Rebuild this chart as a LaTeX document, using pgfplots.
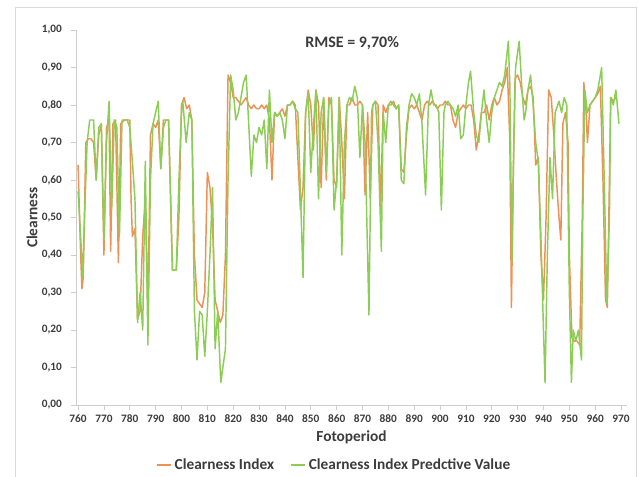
\documentclass[border=0pt]{standalone}
\usepackage{fontspec}
\setmainfont{Carlito}
\usepackage{pgfplots}
\pgfplotsset{compat=1.18}

\definecolor{ciorange}{RGB}{238,145,85}
\definecolor{cigreen}{RGB}{140,205,85}
\definecolor{axgray}{RGB}{205,205,205}
\definecolor{framegray}{RGB}{217,217,217}
\definecolor{txtgray}{RGB}{60,60,60}

\begin{document}
\begin{tikzpicture}
\useasboundingbox (0pt,0pt) rectangle (479.25pt,357.75pt);
% chart frame
\draw[framegray, line width=0.75pt] (11.25pt,-4pt) -- (11.25pt,351.75pt) -- (477pt,351.75pt) -- (477pt,-4pt);
\begin{axis}[
  at={(57pt,54pt)}, anchor=south west,
  scale only axis, width=413.25pt, height=281.25pt,
  xmin=759.2, xmax=972.3, ymin=0, ymax=1,
  axis x line*=bottom, axis y line*=left,
  axis line style={axgray, line width=0.6pt},
  xtick={760,770,...,970},
  ytick={0,0.1,...,1.01},
  tick align=outside, major tick length=4pt,
  tick style={axgray, line width=0.6pt},
  /pgf/number format/assume math mode=true,
  ticklabel style={font=\bfseries\fontsize{8.5}{10}\selectfont, text=txtgray},
  yticklabel style={/pgf/number format/.cd, fixed, fixed zerofill, precision=2, use comma, /tikz/.cd, xshift=-3pt},
  xticklabel style={/pgf/number format/.cd, set thousands separator={}},
  xlabel={Fotoperiod}, ylabel={Clearness},
  label style={font=\bfseries\fontsize{11.5}{13}\selectfont, text=txtgray},
  xlabel style={at={(axis description cs:0.5,0)}, anchor=center, yshift=-24.5pt},
  ylabel style={at={(axis description cs:0,0.5)}, anchor=center, yshift=33pt},
  legend columns=2,
  legend style={at={(0.469,-0.16)}, anchor=center, draw=none, fill=none,
    font=\bfseries\fontsize{11.5}{13}\selectfont, text=txtgray,
    /tikz/every even column/.append style={column sep=10pt}},
  legend image code/.code={\draw[#1] plot coordinates {(0pt,0pt) (11pt,0pt)};},
  clip=false,
]
% measured clearness index
\addplot[ciorange, line width=1.1pt, line join=round] coordinates {
(760,0.64) (761,0.40) (761.5,0.31) (762,0.34) (763,0.70) (764,0.71) (765,0.71) (766,0.70)
(767,0.60) (768,0.72) (769,0.75) (770,0.40) (771,0.74) (772,0.76) (772.6,0.41) (773.5,0.75)
(774.5,0.76) (775.6,0.38) (776.5,0.75) (778,0.76) (780,0.76) (780.5,0.55) (781,0.45) (782,0.47)
(783,0.23) (784,0.25) (785,0.45) (786,0.55) (787,0.25) (788,0.72) (789,0.75) (790,0.74)
(791,0.76) (792,0.63) (793,0.76) (795,0.76) (796.5,0.36) (798,0.36) (799,0.50) (800,0.80)
(801,0.82) (802,0.79) (803,0.80) (804,0.76) (805,0.40) (806,0.28) (807,0.27) (808,0.26)
(809,0.30) (810,0.62) (811,0.58) (812,0.48) (813,0.28) (814,0.25) (815,0.22) (816,0.24)
(817,0.40) (818,0.88) (819,0.86) (820,0.82) (821,0.82) (822,0.81) (823,0.80) (824,0.81)
(825,0.82) (826,0.80) (827,0.79) (828,0.80) (829,0.79) (830,0.79) (831,0.80) (832,0.79)
(833,0.80) (834,0.76) (835,0.60) (836,0.78) (837,0.77) (838,0.78) (839,0.79) (840,0.77)
(841,0.80) (842,0.80) (843,0.81) (844,0.80) (845,0.66) (846,0.52) (847,0.58) (848,0.78)
(849,0.84) (850,0.80) (851,0.68) (852,0.84) (853,0.80) (854,0.58) (855,0.82) (856,0.60)
(857,0.82) (858,0.80) (859,0.60) (860,0.58) (861,0.82) (862,0.70) (863,0.55) (864,0.80)
(865,0.80) (866,0.82) (867,0.80) (868,0.80) (869,0.81) (870,0.80) (871,0.56) (872,0.78)
(873,0.55) (874,0.80) (875,0.81) (876,0.80) (877,0.52) (878,0.80) (879,0.78) (880,0.80)
(881,0.80) (882,0.81) (883,0.79) (884,0.80) (885,0.63) (886,0.62) (887,0.72) (888,0.79)
(889,0.80) (890,0.79) (891,0.80) (892,0.78) (893,0.76) (894,0.80) (895,0.81) (896,0.80)
(897,0.81) (898,0.80) (899,0.79) (900,0.80) (901,0.80) (902,0.81) (903,0.80) (904,0.80)
(905,0.76) (906,0.74) (907,0.78) (908,0.79) (909,0.80) (910,0.79) (911,0.80) (912,0.80)
(913,0.76) (914,0.68) (915,0.72) (916,0.78) (917,0.78) (918,0.80) (919,0.76) (920,0.80)
(921,0.82) (922,0.80) (923,0.81) (924,0.84) (925,0.86) (926,0.90) (927,0.70) (927.6,0.26)
(928.3,0.60) (929,0.87) (930,0.88) (931,0.86) (932,0.82) (933,0.80) (934,0.84) (935,0.85)
(936,0.82) (937,0.64) (938,0.66) (939,0.40) (940,0.28) (941,0.50) (942,0.84) (943,0.82)
(944,0.72) (945,0.60) (946,0.50) (946.7,0.44) (947.5,0.75) (948.5,0.78) (949.5,0.70) (950,0.40)
(951,0.18) (952,0.17) (953,0.17) (954,0.16) (955,0.50) (955.6,0.86) (956.5,0.78) (957,0.70)
(958,0.80) (959,0.81) (960,0.82) (961,0.83) (962,0.85) (963,0.60) (964,0.28) (964.7,0.26)
(965.5,0.60) (966,0.82) (967,0.81) (968,0.82)
};
\addlegendentry{Clearness Index}
% predicted clearness index
\addplot[cigreen, line width=1.1pt, line join=round] coordinates {
(760,0.57) (761,0.45) (761.8,0.34) (762.5,0.50) (763.5,0.70) (764.5,0.76) (766,0.76) (767,0.60)
(768,0.74) (769,0.75) (770,0.44) (771,0.70) (772,0.81) (773,0.52) (774,0.76) (775,0.74)
(776,0.45) (777,0.76) (779,0.76) (780,0.74) (781,0.65) (782,0.55) (783,0.22) (784,0.30)
(785,0.20) (786,0.65) (787,0.16) (788,0.60) (789,0.75) (790,0.78) (791,0.81) (792,0.63)
(793,0.74) (794,0.76) (795,0.76) (796.5,0.36) (798,0.36) (799,0.60) (800,0.78) (800.5,0.81)
(801.8,0.70) (803,0.78) (804,0.76) (805,0.25) (806,0.12) (807,0.25) (808,0.24) (809,0.13)
(810,0.25) (811,0.40) (812,0.58) (813,0.15) (814,0.25) (815.2,0.06) (816,0.10) (817,0.15)
(818,0.60) (819,0.88) (820,0.84) (821,0.76) (822,0.78) (823,0.82) (824,0.86) (825,0.88)
(826,0.75) (827,0.61) (828,0.72) (829,0.70) (830,0.74) (831,0.72) (832,0.76) (833,0.63)
(834,0.84) (835,0.70) (836,0.78) (837,0.77) (838,0.78) (839,0.76) (840,0.71) (841,0.80)
(842,0.80) (843,0.81) (844,0.79) (845,0.78) (846,0.57) (847,0.34) (848,0.78) (849,0.83)
(850,0.62) (851,0.74) (852,0.84) (853,0.55) (854,0.78) (855,0.82) (856,0.62) (857,0.80)
(858,0.82) (859,0.52) (860,0.60) (861,0.82) (862,0.40) (863,0.70) (864,0.80) (865,0.82)
(866,0.81) (867,0.85) (868,0.82) (869,0.66) (870,0.80) (871,0.70) (872.5,0.24) (873.5,0.78)
(874,0.80) (875,0.81) (876,0.70) (877.3,0.41) (878,0.78) (879,0.70) (880,0.80) (881,0.81)
(882,0.80) (883,0.79) (884,0.80) (885,0.60) (886,0.59) (887,0.74) (888,0.80) (889,0.83)
(890,0.82) (891,0.80) (892,0.83) (893,0.75) (894.4,0.56) (895.5,0.80) (896.5,0.84) (897.5,0.80)
(898.5,0.80) (899.5,0.78) (900.5,0.52) (901.5,0.78) (902,0.80) (903,0.81) (904,0.80) (905,0.79)
(906,0.77) (907,0.80) (908,0.71) (909,0.72) (910,0.80) (911,0.86) (911.8,0.89) (913,0.78)
(914,0.72) (915,0.70) (916,0.78) (917,0.84) (918,0.76) (919,0.70) (920,0.78) (921,0.82)
(922,0.84) (923,0.86) (924,0.85) (925,0.88) (926.4,0.97) (927,0.85) (927.8,0.38) (928.5,0.70)
(929.2,0.90) (930.6,0.97) (931.5,0.86) (932.5,0.76) (933.1,0.78) (934,0.84) (935,0.88) (936,0.80)
(937,0.70) (938,0.65) (939,0.45) (940,0.20) (940.6,0.06) (941.5,0.40) (942.5,0.66) (943.5,0.55)
(944.5,0.78) (945.5,0.80) (946,0.81) (947,0.78) (948,0.82) (949,0.80) (950,0.30) (950.8,0.06)
(951.5,0.20) (952.5,0.17) (953.5,0.20) (954.7,0.12) (955.2,0.50) (956,0.84) (957,0.78) (958,0.80)
(959,0.81) (960,0.82) (961,0.84) (962.5,0.90) (963.5,0.60) (964.5,0.27) (965.5,0.50) (966,0.82)
(967,0.80) (968,0.84) (969.2,0.75)
};
\addlegendentry{Clearness Index Predctive Value}
\node[font=\bfseries\fontsize{12}{14}\selectfont, text=txtgray] at (axis cs:866,0.965) {RMSE = 9,70\%};
\end{axis}
\end{tikzpicture}
\end{document}
